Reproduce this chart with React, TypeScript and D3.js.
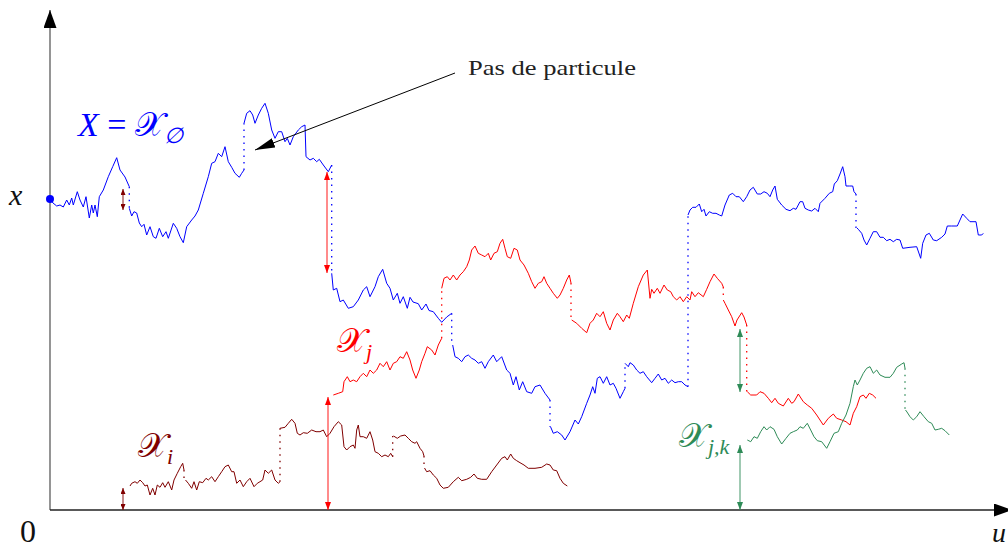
import * as d3 from 'd3';

type Pt = [number, number];

// time u (horizontal), position x (vertical); each particle is a list of
// continuous pieces, consecutive pieces are joined by a dotted jump
const blueSegments: Pt[][] = [
  [[0, 3.11], [0.03, 3.07], [0.067, 3.04], [0.1, 3.05], [0.133, 3.03], [0.167, 3.1], [0.193, 3.05], [0.217, 3.12], [0.233, 3.05], [0.273, 3.183], [0.3, 3.1], [0.333, 3.03], [0.36, 3.133], [0.393, 2.92], [0.417, 3.05], [0.433, 2.97], [0.45, 3.05], [0.473, 2.933], [0.493, 3.133], [0.533, 3.2], [0.583, 3.333], [0.627, 3.433], [0.667, 3.523], [0.7, 3.4], [0.75, 3.33], [0.793, 3.233]],
  [[0.793, 3.017], [0.817, 2.94], [0.84, 2.983], [0.867, 2.97], [0.893, 2.87], [0.917, 2.833], [0.94, 2.857], [0.967, 2.75], [1.0, 2.833], [1.033, 2.733], [1.06, 2.717], [1.093, 2.817], [1.127, 2.733], [1.16, 2.783], [1.183, 2.717], [1.233, 2.867], [1.267, 2.817], [1.3, 2.733], [1.333, 2.673], [1.367, 2.833], [1.417, 2.9], [1.45, 2.94], [1.483, 3.0], [1.533, 3.167], [1.583, 3.333], [1.617, 3.467], [1.65, 3.483], [1.683, 3.567], [1.717, 3.533], [1.75, 3.633], [1.783, 3.483], [1.817, 3.427], [1.85, 3.367], [1.893, 3.327], [1.917, 3.367], [1.94, 3.4]],
  [[1.94, 3.867], [1.967, 3.967], [2.0, 3.993], [2.027, 3.95], [2.05, 3.867], [2.083, 3.95], [2.117, 4.017], [2.15, 4.067], [2.183, 3.967], [2.217, 3.8], [2.25, 3.717], [2.283, 3.783], [2.317, 3.783], [2.35, 3.683], [2.373, 3.717], [2.4, 3.65], [2.433, 3.733], [2.483, 3.8], [2.517, 3.833], [2.55, 3.85], [2.56, 3.533], [2.6, 3.5], [2.633, 3.517], [2.667, 3.483], [2.693, 3.507], [2.733, 3.45], [2.783, 3.383], [2.817, 3.45]],
  [[2.817, 2.367], [2.833, 2.2], [2.867, 2.217], [2.9, 2.083], [2.933, 2.1], [2.983, 2.017], [3.033, 2.033], [3.083, 2.1], [3.133, 2.2], [3.167, 2.233], [3.2, 2.133], [3.25, 2.233], [3.283, 2.333], [3.327, 2.407], [3.367, 2.267], [3.4, 2.217], [3.433, 2.1], [3.473, 2.167], [3.5, 2.067], [3.533, 2.133], [3.573, 2.017], [3.6, 2.127], [3.63, 2.08], [3.683, 2.063], [3.717, 2.0], [3.76, 2.06], [3.79, 1.995], [3.833, 1.983], [3.883, 1.917], [3.917, 1.877], [3.967, 1.93], [4.017, 1.967]],
  [[4.027, 1.65], [4.05, 1.533], [4.083, 1.517], [4.117, 1.483], [4.15, 1.533], [4.183, 1.55], [4.217, 1.517], [4.25, 1.5], [4.283, 1.467], [4.317, 1.483], [4.35, 1.417], [4.383, 1.483], [4.433, 1.55], [4.467, 1.483], [4.517, 1.533], [4.567, 1.4], [4.6, 1.367], [4.633, 1.25], [4.66, 1.333], [4.693, 1.2], [4.727, 1.283], [4.767, 1.183], [4.817, 1.167], [4.85, 1.233], [4.9, 1.25], [4.95, 1.167], [5.0, 1.1]],
  [[5.005, 0.833], [5.033, 0.767], [5.073, 0.783], [5.117, 0.75], [5.15, 0.7], [5.2, 0.783], [5.25, 0.9], [5.283, 0.86], [5.317, 0.933], [5.367, 1.067], [5.4, 1.15], [5.427, 1.233], [5.45, 1.167], [5.473, 1.317], [5.5, 1.333], [5.533, 1.267], [5.567, 1.333], [5.6, 1.25], [5.633, 1.267], [5.66, 1.217], [5.7, 1.117], [5.733, 1.183], [5.75, 1.217]],
  [[5.75, 1.467], [5.783, 1.433], [5.8, 1.473], [5.833, 1.45], [5.867, 1.4], [5.9, 1.367], [5.933, 1.383], [5.967, 1.333], [6.017, 1.273], [6.05, 1.317], [6.083, 1.36], [6.117, 1.3], [6.15, 1.317], [6.183, 1.267], [6.217, 1.3], [6.25, 1.273], [6.283, 1.283], [6.317, 1.283], [6.35, 1.25], [6.38, 1.233]],
  [[6.38, 2.95], [6.4, 3.0], [6.427, 3.027], [6.46, 3.027], [6.493, 3.06], [6.517, 2.983], [6.54, 3.007], [6.56, 2.94], [6.593, 2.983], [6.627, 2.967], [6.66, 2.967], [6.693, 2.95], [6.717, 2.94], [6.75, 3.05], [6.793, 3.15], [6.827, 3.167], [6.86, 3.133], [6.893, 3.133], [6.933, 3.083], [6.967, 3.133], [7.0, 3.2], [7.033, 3.227], [7.073, 3.16], [7.107, 3.16], [7.14, 3.183], [7.173, 3.167], [7.2, 3.133], [7.227, 3.2], [7.25, 3.24], [7.273, 3.107], [7.317, 3.05], [7.36, 3.007], [7.4, 2.993], [7.433, 3.017], [7.46, 3.007], [7.5, 3.083], [7.527, 3.083], [7.55, 3.017], [7.583, 3.0], [7.617, 2.99], [7.65, 3.017], [7.683, 2.983], [7.7, 3.067], [7.75, 3.117], [7.793, 3.167], [7.827, 3.183], [7.843, 3.26], [7.873, 3.293], [7.9, 3.36], [7.927, 3.433], [7.95, 3.333], [7.96, 3.24], [7.993, 3.24], [8.027, 3.24], [8.04, 3.183], [8.06, 3.16]],
  [[8.07, 2.82], [8.083, 2.807], [8.117, 2.767], [8.14, 2.7], [8.167, 2.65], [8.2, 2.717], [8.233, 2.783], [8.267, 2.783], [8.3, 2.727], [8.333, 2.727], [8.367, 2.693], [8.4, 2.707], [8.433, 2.683], [8.467, 2.707], [8.5, 2.7], [8.527, 2.617], [8.6, 2.627], [8.667, 2.633], [8.707, 2.517], [8.727, 2.667], [8.76, 2.75], [8.793, 2.767], [8.833, 2.7], [8.867, 2.693], [8.917, 2.727], [8.95, 2.76], [8.973, 2.84], [9.017, 2.84], [9.073, 2.84], [9.127, 2.96], [9.167, 2.917], [9.2, 2.883], [9.26, 2.883], [9.283, 2.75], [9.317, 2.75], [9.333, 2.767]],
];

const redSegments: Pt[][] = [
  [[2.833, 1.15], [2.883, 1.167], [2.927, 1.183], [2.94, 1.283], [2.973, 1.333], [3.0, 1.283], [3.033, 1.3], [3.067, 1.283], [3.1, 1.333], [3.133, 1.367], [3.167, 1.333], [3.2, 1.4], [3.233, 1.367], [3.267, 1.4], [3.3, 1.467], [3.333, 1.433], [3.367, 1.483], [3.4, 1.4], [3.433, 1.467], [3.467, 1.483], [3.5, 1.533], [3.533, 1.517], [3.567, 1.583], [3.6, 1.5], [3.627, 1.4], [3.66, 1.317], [3.693, 1.4], [3.717, 1.483], [3.75, 1.567], [3.773, 1.633], [3.817, 1.6], [3.85, 1.55], [3.883, 1.65], [3.917, 1.717]],
  [[3.917, 2.217], [3.94, 2.317], [3.973, 2.333], [4.0, 2.3], [4.033, 2.35], [4.067, 2.3], [4.1, 2.35], [4.133, 2.383], [4.167, 2.433], [4.193, 2.5], [4.217, 2.6], [4.25, 2.64], [4.283, 2.567], [4.317, 2.55], [4.35, 2.533], [4.383, 2.567], [4.407, 2.5], [4.44, 2.567], [4.473, 2.583], [4.5, 2.667], [4.527, 2.707], [4.55, 2.617], [4.573, 2.533], [4.607, 2.517], [4.64, 2.617], [4.673, 2.6], [4.7, 2.5], [4.74, 2.45], [4.783, 2.367], [4.817, 2.283], [4.85, 2.217], [4.883, 2.267], [4.917, 2.283], [4.94, 2.333], [4.967, 2.267], [5.0, 2.217], [5.033, 2.167], [5.073, 2.117], [5.1, 2.15], [5.133, 2.217], [5.167, 2.3], [5.193, 2.35], [5.21, 2.27]],
  [[5.217, 1.9], [5.267, 1.867], [5.317, 1.817], [5.367, 1.773], [5.4, 1.867], [5.433, 1.9], [5.467, 1.967], [5.5, 1.933], [5.533, 1.983], [5.567, 1.867], [5.6, 1.8], [5.633, 1.9], [5.673, 1.967], [5.7, 1.933], [5.733, 1.883], [5.767, 1.95], [5.793, 1.917], [5.833, 2.067], [5.883, 2.233], [5.933, 2.35], [5.973, 2.4], [6.0, 2.117], [6.017, 2.207], [6.04, 2.167], [6.073, 2.217], [6.1, 2.167], [6.14, 2.25], [6.173, 2.2], [6.207, 2.183], [6.233, 2.133], [6.267, 2.1], [6.3, 2.133], [6.333, 2.083], [6.367, 2.133], [6.4, 2.1], [6.417, 2.183], [6.45, 2.133], [6.483, 2.173], [6.533, 2.133], [6.567, 2.207], [6.6, 2.283], [6.64, 2.36], [6.673, 2.317], [6.717, 2.267], [6.733, 2.23]],
  [[6.733, 2.1], [6.75, 2.067], [6.783, 2.0], [6.817, 1.933], [6.85, 1.84], [6.87, 1.9], [6.917, 1.973], [6.94, 1.93], [6.967, 1.85]],
  [[6.973, 1.183], [7.007, 1.15], [7.067, 1.15], [7.1, 1.183], [7.14, 1.167], [7.183, 1.117], [7.217, 1.073], [7.25, 1.117], [7.283, 1.067], [7.333, 1.04], [7.383, 1.117], [7.417, 1.067], [7.44, 1.083], [7.483, 1.16], [7.533, 1.083], [7.573, 1.05], [7.617, 1.017], [7.667, 0.95], [7.733, 0.85], [7.783, 0.917], [7.833, 0.96], [7.867, 0.917], [7.917, 0.9], [7.96, 0.883], [8.0, 0.85], [8.033, 0.967], [8.067, 1.033], [8.1, 1.133], [8.133, 1.15], [8.16, 1.117], [8.193, 1.167], [8.227, 1.15], [8.26, 1.117]],
];

const darkRedSegments: Pt[][] = [
  [[0.8, 0.24], [0.817, 0.267], [0.85, 0.283], [0.873, 0.267], [0.9, 0.3], [0.927, 0.273], [0.95, 0.24], [0.973, 0.25], [1.0, 0.15], [1.027, 0.217], [1.05, 0.15], [1.073, 0.25], [1.1, 0.227], [1.127, 0.273], [1.15, 0.227], [1.183, 0.283], [1.217, 0.2], [1.24, 0.3], [1.273, 0.367], [1.307, 0.433], [1.327, 0.467], [1.34, 0.4]],
  [[1.355, 0.3], [1.383, 0.267], [1.417, 0.217], [1.44, 0.283], [1.467, 0.2], [1.493, 0.283], [1.527, 0.273], [1.56, 0.317], [1.583, 0.3], [1.617, 0.333], [1.65, 0.283], [1.683, 0.333], [1.717, 0.383], [1.75, 0.433], [1.783, 0.45], [1.817, 0.383], [1.84, 0.383], [1.867, 0.267], [1.9, 0.3], [1.933, 0.233], [1.967, 0.283], [2.0, 0.317], [2.04, 0.233], [2.073, 0.267], [2.1, 0.283], [2.127, 0.3], [2.15, 0.4], [2.183, 0.367], [2.217, 0.4], [2.25, 0.3], [2.283, 0.267], [2.3, 0.283]],
  [[2.3, 0.817], [2.35, 0.827], [2.383, 0.867], [2.417, 0.907], [2.45, 0.867], [2.473, 0.767], [2.5, 0.75], [2.533, 0.773], [2.573, 0.767], [2.617, 0.8], [2.66, 0.783], [2.7, 0.783], [2.733, 0.8], [2.767, 0.733], [2.8, 0.767], [2.84, 0.833], [2.883, 0.883], [2.917, 0.85], [2.94, 0.633], [2.967, 0.6], [3.0, 0.633], [3.033, 0.65], [3.05, 0.617], [3.067, 0.8], [3.083, 0.85], [3.1, 0.733], [3.133, 0.733], [3.167, 0.717], [3.2, 0.783], [3.227, 0.7], [3.25, 0.583], [3.283, 0.567], [3.317, 0.533], [3.35, 0.55], [3.383, 0.533], [3.407, 0.567], [3.427, 0.533]],
  [[3.435, 0.74], [3.473, 0.717], [3.507, 0.74], [3.55, 0.75], [3.583, 0.717], [3.617, 0.683], [3.65, 0.667], [3.667, 0.683], [3.7, 0.617], [3.727, 0.583], [3.74, 0.54]],
  [[3.745, 0.42], [3.767, 0.383], [3.8, 0.393], [3.833, 0.35], [3.867, 0.317], [3.9, 0.25], [3.933, 0.217], [3.983, 0.227], [4.033, 0.283], [4.083, 0.327], [4.117, 0.293], [4.167, 0.307], [4.207, 0.327], [4.24, 0.36], [4.273, 0.317], [4.317, 0.307], [4.367, 0.307], [4.417, 0.383], [4.467, 0.45], [4.517, 0.517], [4.55, 0.533], [4.573, 0.5], [4.607, 0.56], [4.633, 0.517], [4.667, 0.493], [4.7, 0.473], [4.74, 0.45], [4.783, 0.417], [4.85, 0.417], [4.917, 0.427], [4.967, 0.46], [5.0, 0.45], [5.033, 0.4], [5.067, 0.393], [5.1, 0.317], [5.133, 0.267], [5.173, 0.24]],
];

const greenSegments: Pt[][] = [
  [[6.973, 0.7], [7.007, 0.683], [7.04, 0.733], [7.073, 0.717], [7.107, 0.783], [7.14, 0.833], [7.167, 0.8], [7.2, 0.833], [7.24, 0.807], [7.273, 0.733], [7.317, 0.66], [7.36, 0.717], [7.4, 0.767], [7.433, 0.783], [7.473, 0.8], [7.5, 0.833], [7.533, 0.817], [7.573, 0.867], [7.607, 0.8], [7.64, 0.733], [7.673, 0.693], [7.717, 0.683], [7.767, 0.617], [7.8, 0.683], [7.84, 0.767], [7.883, 0.783], [7.917, 0.867], [7.96, 0.95], [8.0, 1.067], [8.033, 1.233], [8.05, 1.3], [8.073, 1.25], [8.1, 1.3], [8.133, 1.367], [8.167, 1.417], [8.2, 1.433], [8.233, 1.367], [8.267, 1.4], [8.3, 1.35], [8.35, 1.327], [8.4, 1.327], [8.433, 1.367], [8.467, 1.427], [8.517, 1.46], [8.54, 1.473], [8.55, 1.417]],
  [[8.555, 1.0], [8.57, 0.98], [8.6, 0.933], [8.633, 0.9], [8.667, 0.933], [8.7, 0.983], [8.74, 0.933], [8.783, 0.883], [8.817, 0.867], [8.85, 0.8], [8.883, 0.807], [8.917, 0.817], [8.95, 0.793], [8.993, 0.75]],
];

// birth of a child: size of the parent's jump, and the child's start level
const branchArrows = [
  { particle: 'i', u: 0.73, from: 3.21, to: 3.0 },
  { particle: 'i', u: 0.73, from: 0, to: 0.22 },
  { particle: 'j', u: 2.77, from: 3.38, to: 2.37 },
  { particle: 'j', u: 2.78, from: 0, to: 1.13 },
  { particle: 'jk', u: 6.9, from: 1.81, to: 1.18 },
  { particle: 'jk', u: 6.9, from: 0, to: 0.65 },
];

const particles = [
  { key: 'root', segments: blueSegments, prefix: 'X', sub: '∅', labelAt: [0.28, 3.74] as Pt },
  { key: 'i', segments: darkRedSegments, prefix: '', sub: 'i', labelAt: [0.88, 0.53] as Pt },
  { key: 'j', segments: redSegments, prefix: '', sub: 'j', labelAt: [2.87, 1.58] as Pt },
  { key: 'jk', segments: greenSegments, prefix: '', sub: 'j,k', labelAt: [6.29, 0.63] as Pt },
];

const note = { text: 'Pas de particule', at: [4.18, 4.35] as Pt, from: [4.05, 4.37] as Pt, to: [2.05, 3.6] as Pt };

const colors: Record<string, string> = {
  root: '#0000ff',
  i: '#800000',
  j: '#ff0000',
  jk: '#2e8b57',
};

const W = 1008;
const H = 548;
const serif = "'Liberation Serif', 'DejaVu Serif', serif";

export default function App() {
  const xs = d3.scaleLinear().domain([0, 9.58]).range([50, 1008]);
  const ys = d3.scaleLinear().domain([0, 5]).range([510, 10]);
  const line = d3.line<Pt>().x((d) => xs(d[0])).y((d) => ys(d[1]));

  return (
    <svg width={W} height={H} style={{ position: 'absolute', left: 0, top: 0 }} fontFamily={serif}>
      <defs>
        {Object.entries(colors).map(([k, c]) => (
          <marker key={k} id={`head-${k}`} viewBox="0 0 8 6" refX={8} refY={3}
            markerWidth={k === 'i' ? 6 : 8} markerHeight={k === 'i' ? 5 : 6}
            markerUnits="userSpaceOnUse" orient="auto-start-reverse" preserveAspectRatio="none">
            <path d="M0,0 L8,3 L0,6 z" fill={c} />
          </marker>
        ))}
        <marker id="head-axis" viewBox="0 0 18 12" refX={18} refY={6} markerWidth={18} markerHeight={13}
          markerUnits="userSpaceOnUse" orient="auto" preserveAspectRatio="none">
          <path d="M0,0 L18,6 L0,12 z" fill="#000" />
        </marker>
        <marker id="head-note" viewBox="0 0 20 10" refX={20} refY={5} markerWidth={20} markerHeight={10}
          markerUnits="userSpaceOnUse" orient="auto" preserveAspectRatio="none">
          <path d="M0,0 L20,5 L0,10 z" fill="#000" />
        </marker>
      </defs>

      {/* axes */}
      <line x1={xs(0)} y1={ys(0)} x2={xs(0)} y2={ys(5)} stroke="#7a7a7a" strokeWidth={1.6} markerEnd="url(#head-axis)" />
      <line x1={xs(0)} y1={ys(0)} x2={xs(9.62)} y2={ys(0)} stroke="#222" strokeWidth={1.3} markerEnd="url(#head-axis)" />

      {/* jumps */}
      {particles.map((p) =>
        p.segments.slice(1).map((seg, i) => {
          const prev = p.segments[i][p.segments[i].length - 1];
          return (
            <line key={`${p.key}-j${i}`} x1={xs(prev[0])} y1={ys(prev[1])} x2={xs(prev[0])} y2={ys(seg[0][1])}
              stroke={colors[p.key]} strokeWidth={1.3} strokeDasharray="1.5 5" />
          );
        })
      )}

      {/* trajectories */}
      {particles.map((p) =>
        p.segments.map((seg, i) => (
          <path key={`${p.key}-s${i}`} d={line(seg) ?? ''} fill="none" stroke={colors[p.key]} strokeWidth={1} strokeLinejoin="round" />
        ))
      )}

      {/* jump size / birth position */}
      {branchArrows.map((a, i) => (
        <line key={`a${i}`} x1={xs(a.u)} y1={ys(a.from)} x2={xs(a.u)} y2={ys(a.to)}
          stroke={colors[a.particle]} strokeOpacity={0.65} strokeWidth={1.4}
          markerStart={`url(#head-${a.particle})`} markerEnd={`url(#head-${a.particle})`} />
      ))}

      <circle cx={xs(0)} cy={ys(blueSegments[0][0][1])} r={4} fill={colors.root} />

      {/* labels */}
      {particles.map((p) => (
        <text key={`l-${p.key}`} x={xs(p.labelAt[0])} y={ys(p.labelAt[1])} fill={colors[p.key]} fontSize={34}>
          {p.prefix && <tspan fontStyle="italic">{p.prefix}</tspan>}
          {p.prefix && <tspan> = </tspan>}
          <tspan>𝒳</tspan>
          <tspan fontSize={22} dy={7} fontStyle="italic">{p.sub}</tspan>
        </text>
      ))}

      <line x1={xs(note.from[0])} y1={ys(note.from[1])} x2={xs(note.to[0])} y2={ys(note.to[1])} stroke="#000" strokeWidth={1} markerEnd="url(#head-note)" />
      <text x={xs(note.at[0])} y={ys(note.at[1])} fontSize={22} fill="#222" textLength={168} lengthAdjust="spacingAndGlyphs">{note.text}</text>

      <text x={9} y={205} fontSize={30} fontStyle="italic" fill="#111">x</text>
      <text x={20} y={542} fontSize={32} fill="#111">0</text>
      <text x={992} y={542} fontSize={28} fontStyle="italic" fill="#111">u</text>
    </svg>
  );
}
